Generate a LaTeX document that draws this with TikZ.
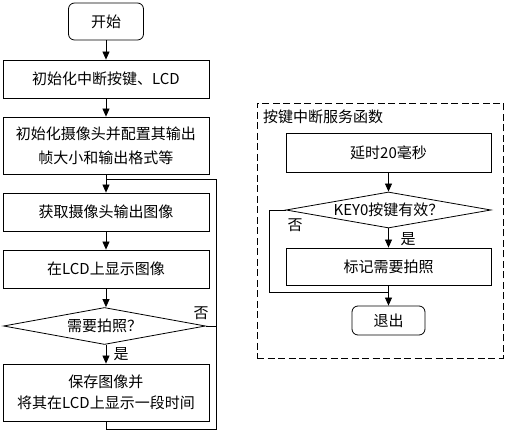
\documentclass[tikz,border=0pt]{standalone}
\usepackage{fontspec}
\setmainfont{Noto Sans CJK SC}
\usetikzlibrary{shapes.geometric,arrows.meta}
\begin{document}
\begin{tikzpicture}[x=1pt,y=-1pt,
  every node/.style={font=\fontsize{15}{22}\selectfont, inner sep=0pt, align=center},
  box/.style={draw, line width=0.8pt, minimum width=206pt},
  rbox/.style={draw, line width=0.8pt, rounded corners=6pt},
  dia/.style={draw, line width=0.8pt, shape=diamond, aspect=5.5},
  ln/.style={line width=0.8pt},
  arr/.style={line width=0.8pt, -{Triangle[length=8pt,width=7pt]}},
  lbl/.style={font=\fontsize{15}{16}\selectfont}]
\useasboundingbox (0,0) rectangle (507,443);
% left flow
\node[rbox, minimum width=75pt, minimum height=37pt] (start) at (106,21.5) {开始};
\node[box, minimum height=38pt] (b2) at (106,79) {初始化中断按键、LCD};
\node[box, minimum height=57pt, font=\fontsize{15}{24}\selectfont] (b3) at (106,145.5) {初始化摄像头并配置其输出\\帧大小和输出格式等};
\node[box, minimum height=38pt] (b4) at (106,212) {获取摄像头输出图像};
\node[box, minimum height=38pt] (b5) at (106,269) {在LCD上显示图像};
\node[dia, minimum width=202pt, minimum height=37pt] (d1) at (104.5,326) {需要拍照？};
\node[box, minimum height=57pt, font=\fontsize{15}{20.5}\selectfont] (b6) at (106,392.5) {保存图像并\\将其在LCD上显示一段时间};
\coordinate (lb) at (106,429);
\coordinate (lbr) at (216,429);
\coordinate (ltr) at (216,179);
\coordinate (lt) at (106,179);
\coordinate (dr) at (216,326);
\draw[arr] (start) -- (b2);
\draw[arr] (b2) -- (b3);
\draw[arr] (b3) -- (b4);
\draw[arr] (b4) -- (b5);
\draw[arr] (b5.south) -- (d1.north -| b5.south);
\draw[arr] (d1.south -| b6.north) -- (b6.north);
\draw[ln] (b6.south) -- (lb) -- (lbr) -- (ltr) -- (lt);
\draw[ln] (d1.east) -- (dr);
\node[lbl] (no1) at (201,313) {否};
\node[lbl] (yes1) at (121,354) {是};
% right frame
\node[draw, line width=0.8pt, dash pattern=on 7pt off 3.5pt, minimum width=246pt, minimum height=255pt] (frame) at (380,230.5) {};
\node[anchor=west] (title) at (263,117) {按键中断服务函数};
\node[box, minimum width=205pt, minimum height=39pt] (r1) at (388.5,152.5) {延时20毫秒};
\node[dia, minimum width=205pt, minimum height=36pt] (d2) at (388.5,210) {KEY0按键有效？};
\node[box, minimum width=205pt, minimum height=37pt] (r2) at (388.5,266.5) {标记需要拍照};
\node[rbox, minimum width=73pt, minimum height=29pt] (exit) at (388.5,320.5) {退出};
\coordinate (nl) at (269,210);
\coordinate (nb) at (269,292);
\coordinate (nm) at (388.5,292);
\draw[arr] (r1) -- (d2);
\draw[arr] (d2) -- (r2);
\draw[arr] (r2) -- (exit);
\draw[ln] (d2.west) -- (nl) -- (nb) -- (nm);
\node[lbl] (no2) at (295,225) {否};
\node[lbl] (yes2) at (408,239) {是};
\end{tikzpicture}
\end{document}
